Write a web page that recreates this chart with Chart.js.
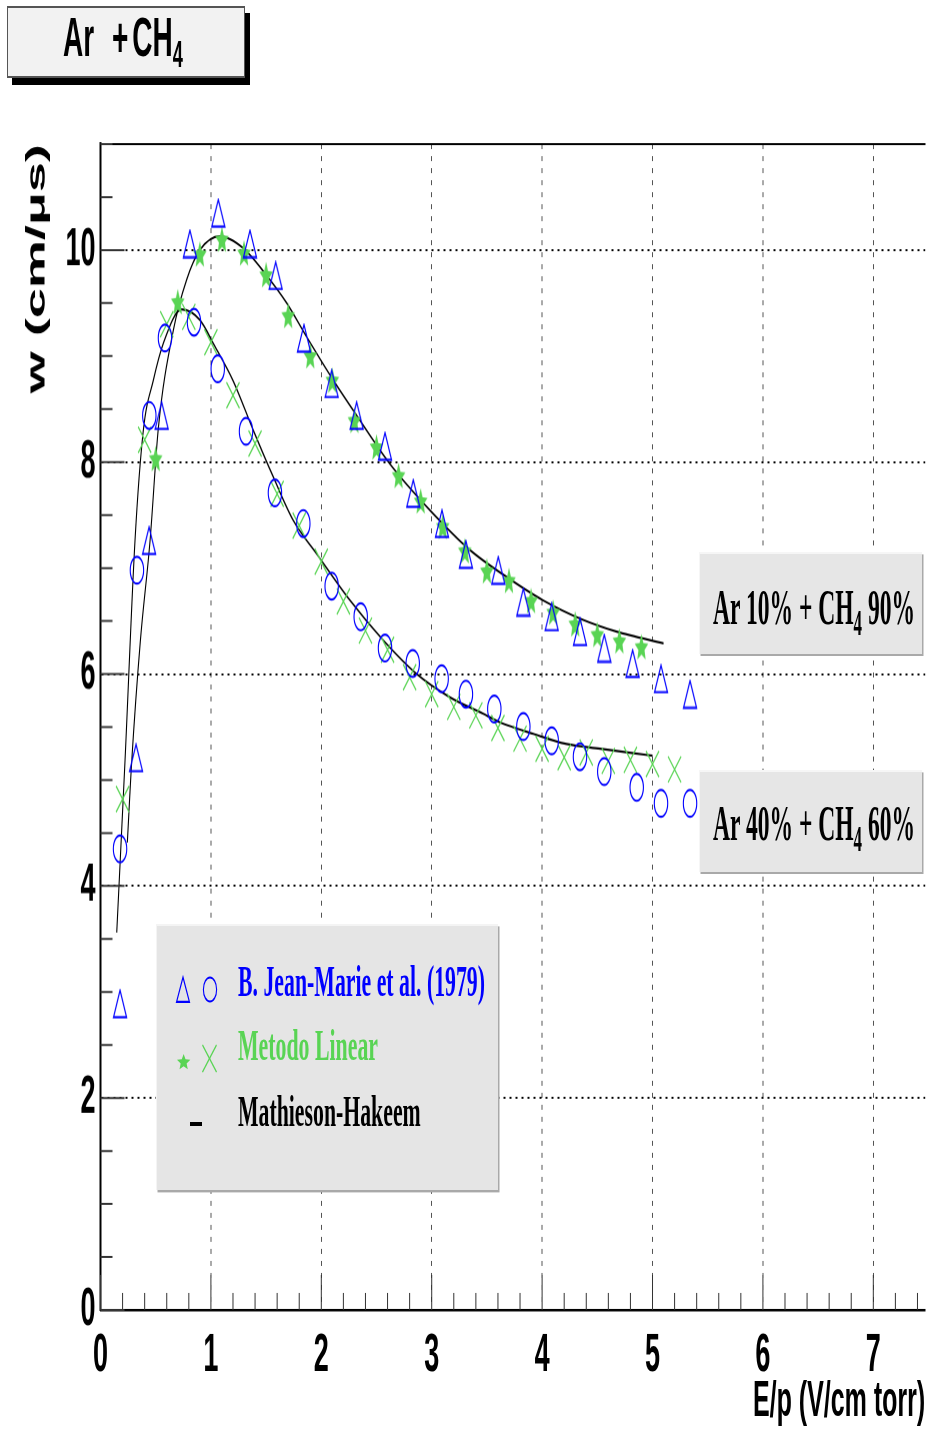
<!DOCTYPE html>
<html><head><meta charset="utf-8"><title>Ar + CH4 drift velocity</title>
<script src="https://cdn.jsdelivr.net/npm/chart.js@4.4.1/dist/chart.umd.min.js"></script>
<style>
html,body{margin:0;padding:0;background:#fff;overflow:hidden;width:926px;height:1431px;}
#stage{position:absolute;left:0;top:0;width:926px;height:715.5px;transform:scaleY(2);transform-origin:0 0;}
#wrap{position:absolute;left:0;top:0;width:926px;height:715.5px;}
.box{position:absolute;box-sizing:border-box;}
.txt{position:absolute;white-space:nowrap;line-height:1;transform-origin:0 0;}
.serif{font-family:'Liberation Serif','Times New Roman',serif;font-weight:bold;}
.sans{font-family:'Liberation Sans',Arial,sans-serif;font-weight:bold;}
sub{font-size:0.72em;vertical-align:-0.3em;line-height:0;}
svg{position:absolute;overflow:visible;}
</style></head>
<body>
<div id="stage">
  <div id="wrap"><canvas id="c"></canvas></div>

  <div class="box" style="left:6.7px;top:2.5px;width:238.3px;height:36.7px;background:#f2f2f2;border:1px solid #555;box-shadow:5px 3.5px 0 #000;"></div>
  <div class="txt sans" data-w="120" style="left:63px;top:5.3px;font-size:28px;color:#000;">Ar <span style="margin-left:10px;margin-right:4px">+</span>CH<sub style="font-size:0.65em">4</sub></div>

  <div class="box" style="left:699.3px;top:275.8px;width:222.4px;height:50.8px;background:#e6e6e6;border-top:1px solid #f6f6f6;border-left:1px solid #f6f6f6;box-shadow:1.5px 1.2px 0 #a9a9a9;"></div>
  <div class="txt serif" data-w="202" style="left:713px;top:290.8px;font-size:25px;color:#000;">Ar 10% + CH<sub>4</sub> 90%</div>

  <div class="box" style="left:699.3px;top:385px;width:222.4px;height:50.8px;background:#e6e6e6;border-top:1px solid #f6f6f6;border-left:1px solid #f6f6f6;box-shadow:1.5px 1.2px 0 #a9a9a9;"></div>
  <div class="txt serif" data-w="202" style="left:713px;top:399.1px;font-size:25px;color:#000;">Ar 40% + CH<sub>4</sub> 60%</div>

  <div class="box" style="left:156px;top:461.7px;width:342.3px;height:133.3px;background:#e5e5e5;border-top:1px solid #f4f4f4;border-left:1px solid #f4f4f4;box-shadow:1.5px 1.2px 0 #a9a9a9;"></div>
  <svg style="left:176px;top:488.3px" width="14" height="13.5" viewBox="0 0 14 13.5"><polygon points="0.6,12.9 13.4,12.9 7,0.6" fill="none" stroke="#0000ff" stroke-width="1.1"/></svg>
  <svg style="left:202px;top:488.3px" width="16" height="13.5" viewBox="0 0 16 13.5"><ellipse cx="8" cy="6.75" rx="6.6" ry="6" fill="none" stroke="#0000ff" stroke-width="1.1"/></svg>
  <svg id="legStar" style="left:176.7px;top:526.5px" width="13.3" height="7.6" viewBox="-0.951 -1 1.902 1.809" preserveAspectRatio="none"><polygon id="legStarPoly" fill="#59d454"/></svg>
  <svg style="left:202px;top:521.5px" width="15" height="14.5" viewBox="0 0 15 14.5"><line x1="0.5" y1="0.5" x2="14.5" y2="14" stroke="#59d454" stroke-width="1"/><line x1="14.5" y1="0.5" x2="0.5" y2="14" stroke="#59d454" stroke-width="1"/></svg>
  <div class="box" style="left:190px;top:561.2px;width:12px;height:1.6px;background:#000;"></div>
  <div class="txt serif" data-w="247" style="left:238px;top:480.8px;font-size:21.7px;color:#0000ff;">B. Jean-Marie et al. (1979)</div>
  <div class="txt serif" data-w="140" style="left:238px;top:512.6px;font-size:21.7px;color:#59d454;">Metodo Linear</div>
  <div class="txt serif" data-w="182.7" style="left:238px;top:545.8px;font-size:21.7px;color:#000;">Mathieson-Hakeem</div>
</div>

<script>
// ---------- data ----------
// Ar 10% + CH4 90% : B. Jean-Marie et al. (1979), triangles
const triX = [0.177, 0.322, 0.44, 0.554, 0.81, 1.067, 1.354, 1.587, 1.843, 2.094, 2.32, 2.577, 2.833, 3.093, 3.31, 3.603, 3.83, 4.087, 4.343, 4.563, 4.82, 5.077, 5.34];
const triY = [2.89, 5.21, 7.26, 8.44, 10.06, 10.35, 10.06, 9.76, 9.17, 8.74, 8.44, 8.15, 7.705, 7.42, 7.13, 6.98, 6.68, 6.54, 6.40, 6.245, 6.10, 5.955, 5.81];
// Ar 10% + CH4 90% : Metodo Linear, stars
const starX = [0.5, 0.7, 0.9, 1.1, 1.3, 1.5, 1.7, 1.9, 2.1, 2.3, 2.5, 2.7, 2.9, 3.1, 3.3, 3.5, 3.7, 3.9, 4.1, 4.3, 4.5, 4.7, 4.9];
const starY = [8.02, 9.50, 9.95, 10.09, 9.96, 9.755, 9.37, 8.99, 8.76, 8.38, 8.13, 7.86, 7.62, 7.38, 7.15, 6.96, 6.87, 6.68, 6.57, 6.46, 6.36, 6.30, 6.245];
// Ar 40% + CH4 60% : B. Jean-Marie et al. (1979), circles
const circX = [0.177, 0.33, 0.442, 0.584, 0.847, 1.062, 1.318, 1.58, 1.837, 2.094, 2.357, 2.577, 2.828, 3.09, 3.31, 3.567, 3.83, 4.087, 4.343, 4.563, 4.857, 5.077, 5.34];
const circY = [4.35, 6.98, 8.44, 9.17, 9.32, 8.88, 8.29, 7.71, 7.42, 6.83, 6.54, 6.245, 6.10, 5.955, 5.81, 5.67, 5.505, 5.37, 5.22, 5.08, 4.93, 4.78, 4.78];
// Ar 40% + CH4 60% : Metodo Linear, crosses
const crossX = [0.2, 0.4, 0.6, 0.8, 1.0, 1.2, 1.4, 1.6, 1.8, 2.0, 2.2, 2.4, 2.6, 2.8, 3.0, 3.2, 3.4, 3.6, 3.8, 4.0, 4.2, 4.4, 4.6, 4.8, 5.0, 5.2];
const crossY = [4.82, 8.21, 9.30, 9.37, 9.13, 8.63, 8.175, 7.70, 7.40, 7.06, 6.685, 6.41, 6.23, 5.97, 5.81, 5.69, 5.61, 5.49, 5.39, 5.295, 5.215, 5.26, 5.18, 5.19, 5.15, 5.10];
// Mathieson-Hakeem curves
const fit10X = [0.243, 0.283, 0.36, 0.449, 0.524, 0.66, 0.78, 0.90, 1.083, 1.29, 1.505, 1.687, 1.868, 2.11, 2.32, 2.62, 2.985, 3.347, 3.68, 4.01, 4.373, 4.675, 5.10];
const fit10Y = [4.41, 5.18, 6.30, 7.26, 8.32, 9.245, 9.72, 10.0, 10.13, 10.02, 9.76, 9.50, 9.18, 8.77, 8.44, 7.985, 7.545, 7.17, 6.915, 6.695, 6.51, 6.40, 6.29];
const fit40X = [0.147, 0.222, 0.3125, 0.388, 0.478, 0.569, 0.735, 0.90, 1.037, 1.20, 1.384, 1.565, 1.746, 1.958, 2.26, 2.56, 2.864, 3.166, 3.467, 3.618, 3.92, 4.22, 4.525, 4.826, 5.0];
const fit40Y = [3.56, 5.18, 7.26, 8.30, 8.77, 9.12, 9.44, 9.34, 9.09, 8.77, 8.30, 7.86, 7.45, 7.135, 6.695, 6.32, 6.00, 5.78, 5.625, 5.545, 5.436, 5.34, 5.295, 5.253, 5.23];
// axes
const xMajorTicks = [0, 1, 2, 3, 4, 5, 6, 7];
const xTickLabels = ['0', '1', '2', '3', '4', '5', '6', '7'];
const yMajorTicks = [0, 2, 4, 6, 8, 10];
const yTickLabels = ['0', '2', '4', '6', '8', '10'];
const xMinorStep = 0.2, yMinorStep = 0.5;
const xRange = [0, 7.47], yRange = [0, 11];

const BLUE = '#0000ff', GREEN = '#59d454';
const pts = (xs, ys) => xs.map((x, i) => ({x, y: ys[i]}));

function starPoints(R, r) {
  const p = [];
  for (let k = 0; k < 10; k++) {
    const a = -Math.PI / 2 + k * Math.PI / 5;
    const rr = k % 2 ? r : R;
    p.push([rr * Math.cos(a), rr * Math.sin(a)]);
  }
  return p;
}
document.getElementById('legStarPoly').setAttribute('points', starPoints(1, 0.45).map(q => q[0].toFixed(3) + ',' + q[1].toFixed(3)).join(' '));

function makeImg(w, h, draw) {
  const S = 4, c = document.createElement('canvas');
  c.width = w * S; c.height = h * S;
  const g = c.getContext('2d'); g.scale(S, S); draw(g);
  const img = new Image(w, h); img.src = c.toDataURL(); return img;
}
const triImg = makeImg(15, 15, g => {
  g.strokeStyle = BLUE; g.lineWidth = 1.1;
  g.beginPath(); g.moveTo(1, 14.25); g.lineTo(14, 14.25); g.lineTo(7.5, 0.75); g.closePath(); g.stroke();
});
const starImg = makeImg(16, 16, g => {
  g.fillStyle = GREEN; g.beginPath();
  starPoints(7.1, 3.2).forEach((q, i) => i ? g.lineTo(8 + q[0], 8 + q[1]) : g.moveTo(8 + q[0], 8 + q[1]));
  g.closePath(); g.fill();
});

const minorTicks = {
  id: 'minorTicks',
  afterDatasetsDraw(chart) {
    const {ctx, chartArea: a, scales: {x, y}} = chart;
    ctx.save(); ctx.strokeStyle = '#333'; ctx.lineWidth = 1; ctx.beginPath();
    for (let v = xRange[0]; v <= xRange[1] + 1e-9; v += xMinorStep) {
      const major = xMajorTicks.some(t => Math.abs(t - v) < 1e-6);
      const px = x.getPixelForValue(v);
      ctx.moveTo(px, a.bottom); ctx.lineTo(px, a.bottom - (major ? 17.5 : 8.5));
    }
    for (let v = yRange[0]; v <= yRange[1] + 1e-9; v += yMinorStep) {
      const major = yMajorTicks.some(t => Math.abs(t - v) < 1e-6);
      const py = y.getPixelForValue(v);
      ctx.moveTo(a.left, py); ctx.lineTo(a.left + (major ? 24 : 12), py);
    }
    ctx.stroke(); ctx.restore();
  }
};

const tickFont = {family: "'Liberation Sans', Arial, sans-serif", weight: 'bold', size: 27};
const noPad = s => { s.paddingLeft = 0; s.paddingRight = 0; s.paddingTop = 0; s.paddingBottom = 0; };

async function main() {
  try { await Promise.all([triImg.decode(), starImg.decode()]); } catch (e) {}
  new Chart(document.getElementById('c'), {
    type: 'scatter',
    data: {datasets: [
      {label: 'Ar 10% + CH4 90% (B. Jean-Marie et al. 1979)', data: pts(triX, triY), pointStyle: triImg, pointRadius: 7, showLine: false},
      {label: 'Ar 10% + CH4 90% (Metodo Linear)', data: pts(starX, starY), pointStyle: starImg, pointRadius: 7, showLine: false},
      {label: 'Ar 40% + CH4 60% (B. Jean-Marie et al. 1979)', data: pts(circX, circY), pointStyle: 'circle', pointRadius: 6.7, borderColor: BLUE, backgroundColor: 'rgba(0,0,0,0)', borderWidth: 1.1, showLine: false},
      {label: 'Ar 40% + CH4 60% (Metodo Linear)', data: pts(crossX, crossY), pointStyle: 'crossRot', pointRadius: 9.2, borderColor: GREEN, borderWidth: 1, showLine: false},
      {label: 'Mathieson-Hakeem Ar 10%', data: pts(fit10X, fit10Y), showLine: true, pointRadius: 0, borderColor: '#000', borderWidth: 1.1, cubicInterpolationMode: 'monotone', fill: false},
      {label: 'Mathieson-Hakeem Ar 40%', data: pts(fit40X, fit40Y), showLine: true, pointRadius: 0, borderColor: '#000', borderWidth: 1.1, cubicInterpolationMode: 'monotone', fill: false}
    ]},
    options: {
      responsive: true, maintainAspectRatio: false, animation: false, devicePixelRatio: 2,
      layout: {autoPadding: false, padding: {top: 72, right: 0.8, left: 0, bottom: 0}},
      plugins: {legend: {display: false}, tooltip: {enabled: false}},
      events: [],
      scales: {
        x: {
          type: 'linear', position: 'bottom', min: xRange[0], max: xRange[1],
          afterBuildTicks: s => { s.ticks = xMajorTicks.map(v => ({value: v})); },
          afterFit: s => { s.height = 61; noPad(s); },
          ticks: {font: tickFont, color: '#000', padding: 7, maxRotation: 0, autoSkip: false,
                  callback: v => xTickLabels[xMajorTicks.indexOf(v)] ?? ''},
          grid: {drawTicks: false, lineWidth: 1, color: c => (c.tick && c.tick.value === 0) ? 'rgba(0,0,0,0)' : '#555'},
          border: {display: true, color: '#000', width: 1.3, dash: [2.5, 3.5]},
          title: {display: true, text: 'E/p (V/cm torr)', align: 'end', color: '#000',
                  font: {family: "'Liberation Sans', Arial, sans-serif", weight: 'bold', size: 25}, padding: {top: 0, bottom: 0}}
        },
        xTop: {
          type: 'linear', position: 'top', min: xRange[0], max: xRange[1],
          afterFit: s => { s.height = 0; noPad(s); },
          ticks: {display: false}, grid: {display: false, drawTicks: false},
          border: {display: true, color: '#000', width: 1}
        },
        y: {
          type: 'linear', position: 'left', min: yRange[0], max: yRange[1],
          afterBuildTicks: s => { s.ticks = yMajorTicks.map(v => ({value: v})); },
          afterFit: s => { s.width = 100.5; noPad(s); },
          ticks: {font: tickFont, color: '#000', padding: 5, autoSkip: false,
                  callback: v => yTickLabels[yMajorTicks.indexOf(v)] ?? ''},
          grid: {drawTicks: false, lineWidth: 0.9, color: c => (c.tick && c.tick.value === 0) ? 'rgba(0,0,0,0)' : '#000'},
          border: {display: true, color: '#000', width: 2, dash: [2, 4]},
          title: {display: true, text: 'w (cm/\u03bcs)', align: 'end', color: '#000',
                  font: {family: "'Liberation Sans', Arial, sans-serif", weight: 'bold', size: 27}, padding: {top: 21, bottom: 0}}
        }
      }
    },
    plugins: [minorTicks]
  });
  document.querySelectorAll('[data-w]').forEach(el => {
    const w = el.getBoundingClientRect().width;
    if (w > 0) el.style.transform = 'scaleX(' + (parseFloat(el.dataset.w) / w).toFixed(4) + ')';
  });
}
main();
</script>
</body></html>
